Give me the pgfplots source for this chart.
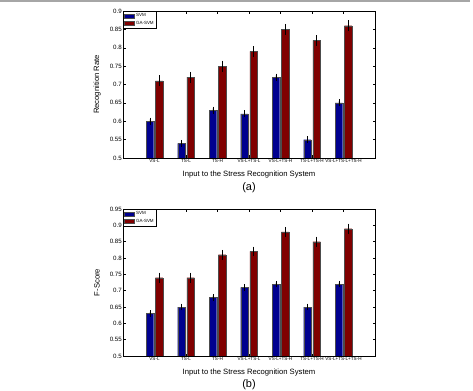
\documentclass[border=0pt]{standalone}
\usepackage{pgfplots}
\pgfplotsset{compat=1.18}
\usepackage{fontspec}
\setmainfont{Liberation Sans}

\definecolor{svmblue}{rgb}{0,0,0.56}
\definecolor{gared}{rgb}{0.5,0,0}

% columns: category index, value, half-width of the error bar
\pgfplotstableread{
x y e
1 0.60 0.005
2 0.54 0.005
3 0.63 0.005
4 0.62 0.005
5 0.72 0.005
6 0.55 0.005
7 0.65 0.005
}\rateSVM
\pgfplotstableread{
x y e
1 0.71 0.01
2 0.72 0.01
3 0.75 0.01
4 0.79 0.01
5 0.85 0.01
6 0.82 0.01
7 0.86 0.01
}\rateGA
\pgfplotstableread{
x y e
1 0.63 0.005
2 0.65 0.005
3 0.68 0.005
4 0.71 0.005
5 0.72 0.005
6 0.65 0.005
7 0.72 0.005
}\fscoreSVM
\pgfplotstableread{
x y e
1 0.74 0.01
2 0.74 0.01
3 0.81 0.01
4 0.82 0.01
5 0.88 0.01
6 0.85 0.01
7 0.89 0.01
}\fscoreGA

\pgfplotsset{
  stressbars/.style={
    scale only axis, width=252bp, height=147bp,
    ybar, bar width=7.6bp,
    axis line style={line width=0.5pt},
    xmin=0, xmax=8, xtick={1,...,7},
    xticklabels={VS-L,TS-L,TS-H,VS-L+TS-L,VS-L+TS-H,TS-L+TS-H,VS-L+TS-L+TS-H},
    x tick label style={font=\fontsize{4.6}{5}\selectfont, inner sep=1bp},
    y tick label style={font=\fontsize{6.2}{7}\selectfont, /pgf/number format/fixed, inner sep=1bp},
    /pgf/number format/assume math mode=true,
    tick align=inside, major tick length=2.5bp,
    tick style={line width=0.4pt, black},
    ymin=0.5, ytick distance=0.05,
    label style={font=\fontsize{7.7}{9}\selectfont},
    xlabel style={at={(axis description cs:0.5,-0.109)}, anchor=center},
    ylabel style={at={(axis description cs:-0.103,0.5)}, anchor=center},
    legend style={at={(0,1)}, anchor=north west, font=\fontsize{4.5}{5}\selectfont,
      inner sep=0.6bp, row sep=-1.5bp, draw=black, line width=0.5pt},
    legend cell align=left,
    legend image code/.code={\draw[#1, line width=0.2pt] (0bp,-1.9bp) rectangle (10bp,2.1bp);},
  },
  bars with errors/.style={
    error bars/.cd, y dir=both, y explicit,
    error bar style={black, line width=0.4pt},
    error mark options={black, line width=0.4pt, mark size=1.7bp},
  },
  svmbar/.style={bar shift=-4.6bp, fill=svmblue, draw=black!70, line width=0.2pt, bars with errors},
  gabar/.style={bar shift=4.6bp, fill=gared, draw=black!70, line width=0.2pt, bars with errors},
}

\begin{document}
\begin{tikzpicture}
\useasboundingbox (0,0) rectangle (473bp,391bp);
\draw[black!35, line width=2bp] (0,389.5bp) -- (470bp,389.5bp);

\begin{axis}[stressbars, name=rate, at={(123bp,233bp)}, anchor=south west,
  ymax=0.9, xlabel={Input to the Stress Recognition System}, ylabel={Recognition Rate}]
\addplot[svmbar] table[x=x, y=y, y error=e] {\rateSVM};
\addplot[gabar] table[x=x, y=y, y error=e] {\rateGA};
\legend{SVM, GA-SVM}
\end{axis}
\node[font=\fontsize{11}{13}\selectfont] at ([yshift=-30bp]rate.south) {(a)};

\begin{axis}[stressbars, name=fscore, at={(123bp,35bp)}, anchor=south west,
  ymax=0.95, xlabel={Input to the Stress Recognition System}, ylabel={F-Score}]
\addplot[svmbar] table[x=x, y=y, y error=e] {\fscoreSVM};
\addplot[gabar] table[x=x, y=y, y error=e] {\fscoreGA};
\legend{SVM, GA-SVM}
\end{axis}
\node[font=\fontsize{11}{13}\selectfont] at ([yshift=-29bp]fscore.south) {(b)};
\end{tikzpicture}
\end{document}
